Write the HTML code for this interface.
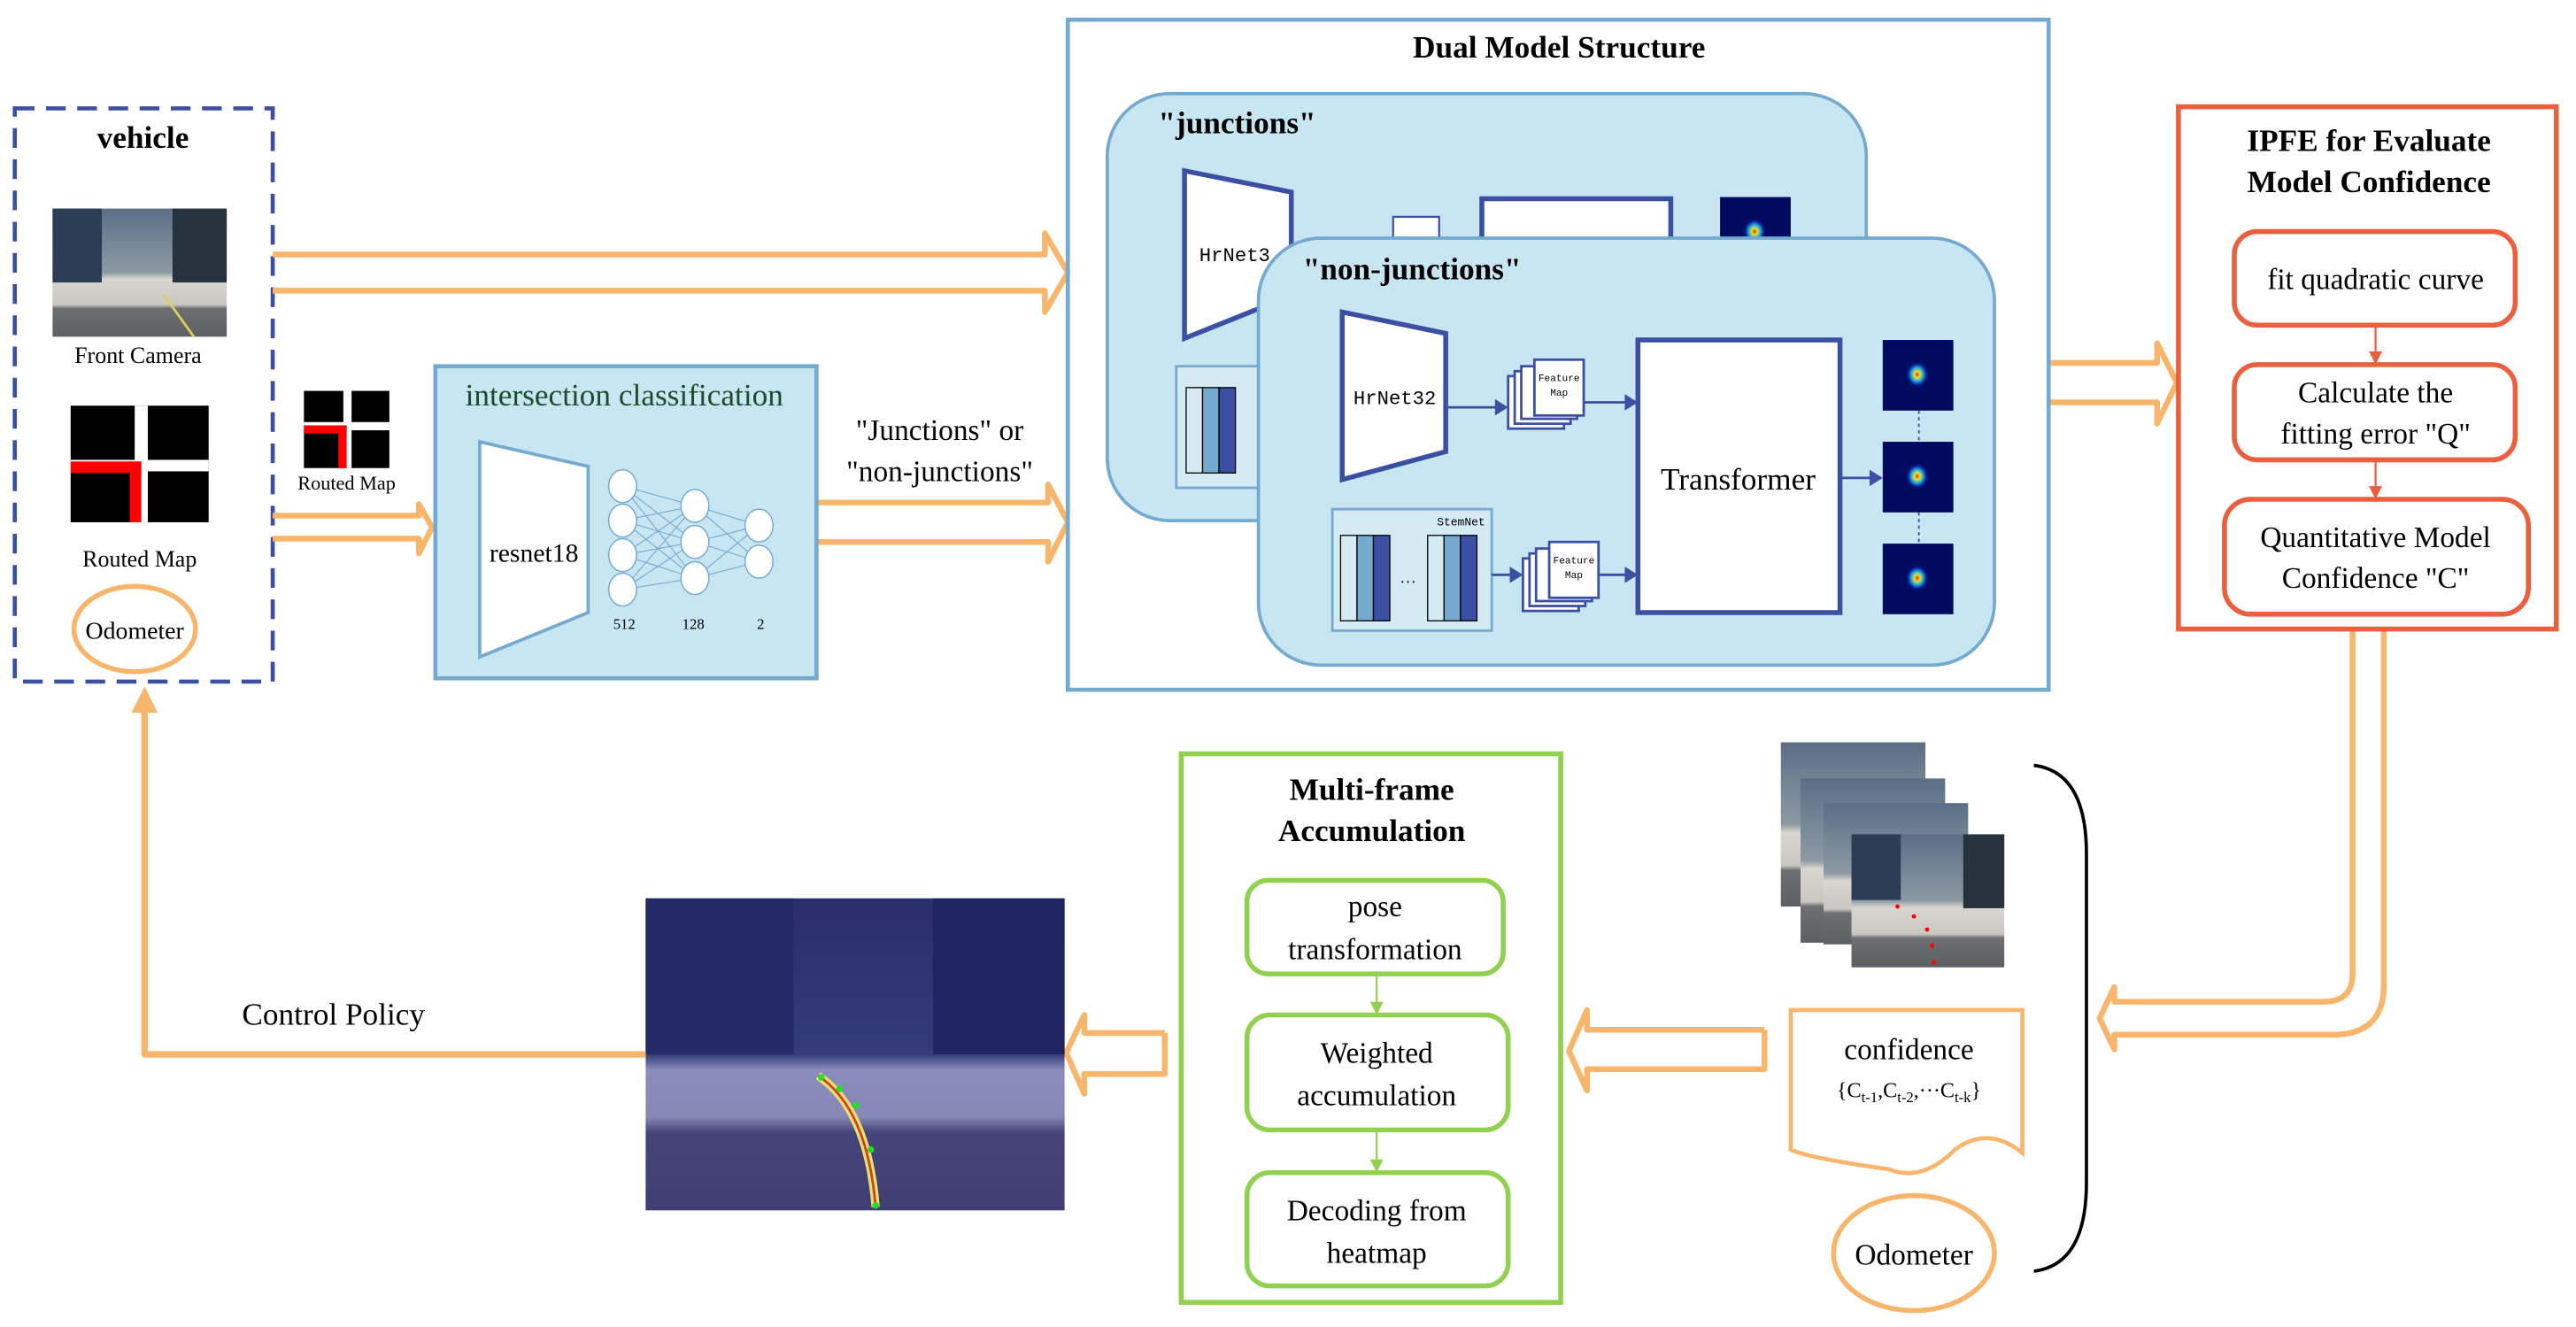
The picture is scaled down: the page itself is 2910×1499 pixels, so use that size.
<!DOCTYPE html>
<html><head><meta charset="utf-8"><style>
html,body{margin:0;padding:0;background:#fff;}
svg{display:block;}
</style></head><body>
<svg width="2910" height="1499" viewBox="0 0 1568 808" preserveAspectRatio="none" xmlns="http://www.w3.org/2000/svg" font-family="'Liberation Serif', 'Times New Roman', serif">
<defs>
<linearGradient id="cam" x1="0" y1="0" x2="0" y2="1">
<stop offset="0" stop-color="#5a6f86"/><stop offset="0.5" stop-color="#8d9aa3"/><stop offset="0.55" stop-color="#d8d6ce"/><stop offset="0.75" stop-color="#c9c7bf"/><stop offset="0.78" stop-color="#6d6f72"/><stop offset="1" stop-color="#5d5f63"/>
</linearGradient>
<linearGradient id="road" x1="0" y1="0" x2="0" y2="1">
<stop offset="0" stop-color="#2a2f6a"/><stop offset="0.5" stop-color="#343b7a"/><stop offset="0.55" stop-color="#8a8cbc"/><stop offset="0.7" stop-color="#8587b5"/><stop offset="0.75" stop-color="#45457a"/><stop offset="1" stop-color="#3f3f73"/>
</linearGradient>
<radialGradient id="hm"><stop offset="0" stop-color="#e03020"/><stop offset="0.25" stop-color="#f0e020"/><stop offset="0.5" stop-color="#20b0e0"/><stop offset="0.8" stop-color="#0a1a90"/><stop offset="1" stop-color="#000a5e"/></radialGradient>
<g id="fm"><rect x="0" y="10" width="34" height="32" fill="#fff" stroke="#3b4fa3" stroke-width="1.5"/><rect x="4" y="7" width="34" height="32" fill="#fff" stroke="#3b4fa3" stroke-width="1.5"/><rect x="8" y="4" width="34" height="32" fill="#fff" stroke="#3b4fa3" stroke-width="1.5"/><rect x="16" y="0" width="30" height="34" fill="#fff" stroke="#3b4fa3" stroke-width="1.5"/><text font-family="'Liberation Mono', monospace" x="31" y="13" font-size="6" text-anchor="middle">Feature</text><text font-family="'Liberation Mono', monospace" x="31" y="22" font-size="6" text-anchor="middle">Map</text></g>
<g id="blk"><rect x="0" y="0" width="10" height="52" fill="#d4ebf3" stroke="#000" stroke-width="0.7"/><rect x="10" y="0" width="10" height="52" fill="#74a9d0" stroke="#000" stroke-width="0.7"/><rect x="20" y="0" width="10" height="52" fill="#3b4fa3" stroke="#000" stroke-width="0.7"/></g>
<g id="heat"><rect x="0" y="0" width="43" height="43" fill="#000a5e"/><ellipse cx="21" cy="21" rx="7" ry="8" fill="url(#hm)"/></g>
</defs>

<!-- vehicle -->
<rect x="9" y="66" width="157" height="349" fill="none" stroke="#3b4fa3" stroke-width="2.5" stroke-dasharray="12,7"/>
<text font-weight="bold" x="87" y="90" font-size="19" text-anchor="middle">vehicle</text>
<rect x="32" y="127" width="106" height="78" fill="url(#cam)"/>
<rect x="32" y="127" width="30" height="45" fill="#2c3e55"/><rect x="105" y="127" width="33" height="45" fill="#27323f"/>
<line x1="100" y1="180" x2="118" y2="205" stroke="#d8cf60" stroke-width="1.5"/>
<text x="84" y="221" font-size="14" text-anchor="middle">Front Camera</text>
<rect x="43" y="247" width="84" height="71" fill="#000"/>
<rect x="82" y="247" width="8" height="71" fill="#fff"/><rect x="43" y="280" width="84" height="7" fill="#fff"/>
<rect x="43" y="281" width="43" height="7" fill="#f00"/><rect x="79" y="281" width="7" height="37" fill="#f00"/>
<text x="85" y="345" font-size="14" text-anchor="middle">Routed Map</text>
<ellipse cx="82" cy="383" rx="37" ry="26" fill="#fff" stroke="#f8b66c" stroke-width="3"/>
<text x="82" y="389" font-size="15" text-anchor="middle">Odometer</text>

<!-- small routed map -->
<rect x="185" y="238" width="52" height="47" fill="#000"/>
<rect x="209" y="238" width="5" height="47" fill="#fff"/><rect x="185" y="257" width="52" height="5" fill="#fff"/>
<rect x="185" y="259" width="26" height="5" fill="#f00"/><rect x="206" y="259" width="5" height="26" fill="#f00"/>
<text x="211" y="298" font-size="12" text-anchor="middle">Routed Map</text>

<!-- hollow arrows -->
<g fill="none" stroke="#f8b66c" stroke-width="3.5" stroke-linejoin="round">
<polyline points="166,155 636,155 636,142 650,166 636,190 636,177 166,177"/>
<polyline points="166,314 255,314 255,307 263,321 255,337 255,328 166,328"/>
<polyline points="497,306 638,306 638,295 650,318 638,342 638,330 497,330"/>
<polyline points="1246,221 1313,221 1313,209 1325,233 1313,258 1313,245 1246,245"/>
<path d="M1432,384 L1432,593 Q1432,610 1414,610 L1287,610 L1287,601 L1278,620 L1287,639 L1287,630 L1420,630 Q1451,630 1451,600 L1451,384"/>
<polyline points="1074,627 966,627 966,615 955,640 966,664 966,651 1074,651 1074,627"/>
<polyline points="709,629 660,629 660,618 649,641 660,666 660,654 709,654 709,629"/>
</g>

<!-- intersection classification -->
<rect x="265" y="223" width="232" height="190" fill="#c8e6f1" stroke="#74a9d0" stroke-width="2.5"/>
<text x="380" y="247" font-size="19" text-anchor="middle" fill="#1d4a2c">intersection classification</text>
<polygon points="292,269 358,284 358,373 292,400" fill="#fff" stroke="#74a9d0" stroke-width="2"/>
<text x="325" y="342" font-size="16" text-anchor="middle">resnet18</text>
<g stroke="#74a9d0" stroke-width="0.6">
<line x1="379" y1="296" x2="423" y2="308"/><line x1="379" y1="296" x2="423" y2="330"/><line x1="379" y1="296" x2="423" y2="352"/>
<line x1="379" y1="317" x2="423" y2="308"/><line x1="379" y1="317" x2="423" y2="330"/><line x1="379" y1="317" x2="423" y2="352"/>
<line x1="379" y1="338" x2="423" y2="308"/><line x1="379" y1="338" x2="423" y2="330"/><line x1="379" y1="338" x2="423" y2="352"/>
<line x1="379" y1="359" x2="423" y2="308"/><line x1="379" y1="359" x2="423" y2="330"/><line x1="379" y1="359" x2="423" y2="352"/>
<line x1="423" y1="308" x2="462" y2="320"/><line x1="423" y1="308" x2="462" y2="342"/><line x1="423" y1="330" x2="462" y2="320"/><line x1="423" y1="330" x2="462" y2="342"/><line x1="423" y1="352" x2="462" y2="320"/><line x1="423" y1="352" x2="462" y2="342"/>
</g>
<g fill="#fff" stroke="#74a9d0" stroke-width="0.8">
<ellipse cx="379" cy="296" rx="8.5" ry="10"/><ellipse cx="379" cy="317" rx="8.5" ry="10"/><ellipse cx="379" cy="338" rx="8.5" ry="10"/><ellipse cx="379" cy="359" rx="8.5" ry="10"/>
<ellipse cx="423" cy="308" rx="8.5" ry="10"/><ellipse cx="423" cy="330" rx="8.5" ry="10"/><ellipse cx="423" cy="352" rx="8.5" ry="10"/>
<ellipse cx="462" cy="320" rx="8.5" ry="10"/><ellipse cx="462" cy="342" rx="8.5" ry="10"/>
</g>
<text x="380" y="383" font-size="9" text-anchor="middle">512</text><text x="422" y="383" font-size="9" text-anchor="middle">128</text><text x="463" y="383" font-size="9" text-anchor="middle">2</text>
<text x="572" y="268" font-size="18" text-anchor="middle">"Junctions" or</text>
<text x="572" y="293" font-size="18" text-anchor="middle">"non-junctions"</text>

<!-- Dual model -->
<rect x="650" y="12" width="597" height="408" fill="#fff" stroke="#74a9d0" stroke-width="2.5"/>
<text font-weight="bold" x="949" y="35" font-size="19" text-anchor="middle">Dual Model Structure</text>
<rect x="674" y="57" width="462" height="260" rx="38" fill="#c8e6f1" stroke="#74a9d0" stroke-width="2"/>
<text font-weight="bold" x="705" y="81" font-size="19">"junctions"</text>
<polygon points="721,104 786,117 786,180 721,206" fill="#fff" stroke="#3b4fa3" stroke-width="3"/>
<text font-family="'Liberation Mono', monospace" x="730" y="159" font-size="12">HrNet3</text>
<rect x="848" y="132" width="28" height="22" fill="#fff" stroke="#3b4fa3" stroke-width="1.2"/>
<rect x="902" y="121" width="115" height="40" fill="#fff" stroke="#3b4fa3" stroke-width="3"/>
<use href="#heat" x="1047" y="120"/>
<rect x="716" y="223" width="60" height="74" fill="#d4ebf3" stroke="#74a9d0" stroke-width="1.5"/>
<use href="#blk" x="722" y="236"/>

<rect x="766" y="145" width="448" height="260" rx="38" fill="#c8e6f1" stroke="#74a9d0" stroke-width="2"/>
<text font-weight="bold" x="793" y="170" font-size="19">"non-junctions"</text>
<polygon points="817,190 880,203 880,275 817,292" fill="#fff" stroke="#3b4fa3" stroke-width="3"/>
<text font-family="'Liberation Mono', monospace" x="849" y="246" font-size="12" text-anchor="middle">HrNet32</text>
<line x1="880" y1="248" x2="916" y2="248" stroke="#3b4fa3" stroke-width="1.5"/><polygon points="910,243 918,248 910,253" fill="#3b4fa3"/>
<use href="#fm" x="918" y="219"/>
<line x1="964" y1="245" x2="995" y2="245" stroke="#3b4fa3" stroke-width="1.5"/><polygon points="989,240 997,245 989,250" fill="#3b4fa3"/>
<rect x="811" y="310" width="97" height="74" fill="#d4ebf3" stroke="#74a9d0" stroke-width="1.5"/>
<text font-family="'Liberation Mono', monospace" x="904" y="320" font-size="7" text-anchor="end">StemNet</text>
<use href="#blk" x="816" y="326"/><use href="#blk" x="869" y="326"/>
<text x="857" y="355" font-size="10" text-anchor="middle">…</text>
<line x1="908" y1="350" x2="925" y2="350" stroke="#3b4fa3" stroke-width="1.5"/><polygon points="919,345 927,350 919,355" fill="#3b4fa3"/>
<use href="#fm" x="927" y="330"/>
<line x1="973" y1="350" x2="995" y2="350" stroke="#3b4fa3" stroke-width="1.5"/><polygon points="989,345 997,350 989,355" fill="#3b4fa3"/>
<rect x="997" y="207" width="123" height="166" fill="#fff" stroke="#3b4fa3" stroke-width="3"/>
<text x="1058" y="298" font-size="19" text-anchor="middle">Transformer</text>
<line x1="1120" y1="291" x2="1143" y2="291" stroke="#3b4fa3" stroke-width="1.5"/><polygon points="1138,286 1146,291 1138,296" fill="#3b4fa3"/>
<use href="#heat" x="1146" y="207"/><use href="#heat" x="1146" y="269"/><use href="#heat" x="1146" y="331"/>
<line x1="1168" y1="250" x2="1168" y2="269" stroke="#3b4fa3" stroke-dasharray="2,2"/><line x1="1168" y1="312" x2="1168" y2="331" stroke="#3b4fa3" stroke-dasharray="2,2"/>

<!-- IPFE -->
<rect x="1326" y="65" width="230" height="318" fill="#fff" stroke="#ea5f3d" stroke-width="3"/>
<text font-weight="bold" x="1442" y="92" font-size="19" text-anchor="middle">IPFE for Evaluate</text>
<text font-weight="bold" x="1442" y="117" font-size="19" text-anchor="middle">Model Confidence</text>
<g fill="#fff" stroke="#ea5f3d" stroke-width="3">
<rect x="1360" y="141" width="171" height="57" rx="14"/><rect x="1360" y="222" width="171" height="58" rx="14"/><rect x="1354" y="304" width="185" height="70" rx="16"/>
</g>
<g stroke="#ea5f3d" stroke-width="1.2"><line x1="1446" y1="198" x2="1446" y2="216"/><line x1="1446" y1="280" x2="1446" y2="298"/></g>
<polygon points="1442,214 1450,214 1446,222" fill="#ea5f3d"/><polygon points="1442,296 1450,296 1446,304" fill="#ea5f3d"/>
<text x="1446" y="176" font-size="18" text-anchor="middle">fit quadratic curve</text>
<text x="1446" y="245" font-size="18" text-anchor="middle">Calculate the</text>
<text x="1446" y="270" font-size="18" text-anchor="middle">fitting error "Q"</text>
<text x="1446" y="333" font-size="18" text-anchor="middle">Quantitative Model</text>
<text x="1446" y="358" font-size="18" text-anchor="middle">Confidence "C"</text>

<!-- stacked frames -->
<g>
<rect x="1084" y="452" width="88" height="100" fill="url(#cam)"/>
<rect x="1096" y="474" width="88" height="100" fill="url(#cam)"/>
<rect x="1110" y="489" width="88" height="86" fill="url(#cam)"/>
<rect x="1127" y="508" width="93" height="81" fill="url(#cam)"/>
<rect x="1127" y="508" width="30" height="40" fill="#2c3e55"/><rect x="1195" y="508" width="25" height="45" fill="#27323f"/>
<g fill="#f00"><circle cx="1155" cy="552" r="1.3"/><circle cx="1165" cy="558" r="1.3"/><circle cx="1173" cy="566" r="1.3"/><circle cx="1176" cy="576" r="1.3"/><circle cx="1177" cy="586" r="1.3"/></g>
</g>
<path d="M1238,466 Q1270,470 1270,520 L1270,720 Q1270,770 1238,774" fill="none" stroke="#000" stroke-width="2"/>
<path d="M1090,615 L1231,615 L1231,702 Q1210,685 1190,700 Q1170,720 1150,712 Q1100,705 1090,700 Z" fill="#fff" stroke="#f8b66c" stroke-width="2.5"/>
<text x="1162" y="645" font-size="18" text-anchor="middle">confidence</text>
<text x="1162" y="668" font-size="13" text-anchor="middle">{C<tspan font-size="9" dy="3">t-1</tspan><tspan dy="-3">,C</tspan><tspan font-size="9" dy="3">t-2</tspan><tspan dy="-3">,···C</tspan><tspan font-size="9" dy="3">t-k</tspan><tspan dy="-3">}</tspan></text>
<ellipse cx="1165" cy="763" rx="49" ry="35" fill="#fff" stroke="#f8b66c" stroke-width="3"/>
<text x="1165" y="770" font-size="18" text-anchor="middle">Odometer</text>

<!-- Multi-frame -->
<rect x="719" y="459" width="231" height="334" fill="#fff" stroke="#92d050" stroke-width="3"/>
<text font-weight="bold" x="835" y="487" font-size="19" text-anchor="middle">Multi-frame</text>
<text font-weight="bold" x="835" y="512" font-size="19" text-anchor="middle">Accumulation</text>
<g fill="#fff" stroke="#92d050" stroke-width="3">
<rect x="759" y="536" width="156" height="57" rx="13"/><rect x="759" y="618" width="159" height="70" rx="14"/><rect x="759" y="714" width="159" height="69" rx="14"/>
</g>
<g stroke="#92d050" stroke-width="1.2"><line x1="838" y1="593" x2="838" y2="612"/><line x1="838" y1="688" x2="838" y2="708"/></g>
<polygon points="834,610 842,610 838,618" fill="#92d050"/><polygon points="834,706 842,706 838,714" fill="#92d050"/>
<text x="837" y="558" font-size="18" text-anchor="middle">pose</text>
<text x="837" y="584" font-size="18" text-anchor="middle">transformation</text>
<text x="838" y="647" font-size="18" text-anchor="middle">Weighted</text>
<text x="838" y="673" font-size="18" text-anchor="middle">accumulation</text>
<text x="838" y="743" font-size="18" text-anchor="middle">Decoding from</text>
<text x="838" y="769" font-size="18" text-anchor="middle">heatmap</text>

<!-- road image -->
<rect x="393" y="547" width="255" height="190" fill="url(#road)"/>
<rect x="393" y="547" width="90" height="95" fill="#232a66"/><rect x="568" y="547" width="80" height="95" fill="#1f2560"/>
<path d="M498,655 Q528,675 533,735" fill="none" stroke="#e8e070" stroke-width="5"/>
<path d="M498,655 Q528,675 533,735" fill="none" stroke="#d04020" stroke-width="1.5"/>
<g fill="#20e020"><circle cx="500" cy="656" r="2"/><circle cx="511" cy="663" r="2"/><circle cx="521" cy="673" r="2"/><circle cx="530" cy="700" r="2"/><circle cx="533" cy="734" r="2"/></g>

<!-- control policy -->
<polyline points="393,642 88,642 88,432" fill="none" stroke="#f8b66c" stroke-width="4" stroke-linejoin="round"/>
<polygon points="80,434 96,434 88,418" fill="#f8b66c"/>
<text x="203" y="624" font-size="19" text-anchor="middle">Control Policy</text>
</svg>
</body></html>
